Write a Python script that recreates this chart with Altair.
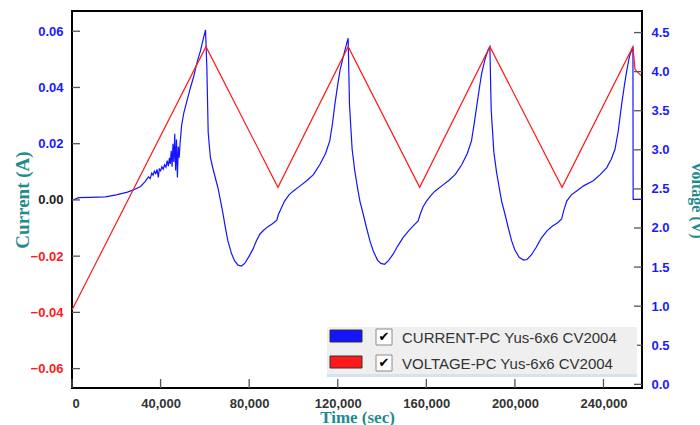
import altair as alt
import pandas as pd

# ---------------- data ----------------
time_ticks = [0, 40000, 80000, 120000, 160000, 200000, 240000]
current_ticks = [-0.06, -0.04, -0.02, 0.0, 0.02, 0.04, 0.06]
voltage_ticks = [0.0, 0.5, 1.0, 1.5, 2.0, 2.5, 3.0, 3.5, 4.0, 4.5]

volt_t = [0, 60500, 93000, 124700, 157000, 188700, 221300, 253300, 254250, 255500, 257000]
volt_v = [0.95, 4.32, 2.52, 4.32, 2.52, 4.32, 2.52, 4.32, 4.03, 3.99, 3.95]

cur_t = [0, 1500, 3000, 8000, 15000, 20000, 25000, 28000, 31000, 33000,
         34500, 35300, 36000, 36600, 37200, 37800, 38400, 39000, 39400, 40000,
         40600, 41200, 41800, 42400, 43000, 43500, 44000, 44400, 44800, 45200,
         45600, 46000, 46400, 46800, 47200, 47600, 48000, 48400, 48800, 49500,
         50500, 52000, 53500, 55000, 56500, 58000, 59200, 60300, 60900, 61500,
         62500, 63700, 65000, 66000, 67000, 68200, 69300, 70400, 72000, 73500,
         75000, 76500, 78000, 80000, 81700, 83300, 84800, 86500, 88500, 90500,
         92500, 93200, 94500, 96000, 98000, 100000, 103000, 106000, 109000, 112000,
         114500, 116400, 117600, 118700, 120000, 121000, 122500, 124000, 124700, 125300,
         126500, 127700, 129000, 130000, 131500, 133000, 134500, 136000, 138000, 139500,
         141200, 143000, 145000, 147000, 149500, 152000, 154000, 156300, 157300, 158500,
         160000, 162000, 164000, 167000, 170000, 173000, 176000, 178500, 180400, 181500,
         182700, 184000, 185000, 186500, 188000, 188700, 189300, 190500, 191700, 193000,
         194000, 195500, 197000, 198500, 200000, 202000, 204000, 205500, 207500, 209500,
         212000, 214500, 217000, 219500, 221100, 222000, 223400, 225500, 227900, 231000,
         235400, 238500, 241500, 243500, 245200, 246700, 248200, 249500, 250500, 251700,
         253300, 253400, 257400]
cur_i = [0.0, 0.0003, 0.0008, 0.0009, 0.0011, 0.0018, 0.0028, 0.0036, 0.0048, 0.0065,
         0.0082, 0.0076, 0.0095, 0.0088, 0.0102, 0.0094, 0.0108, 0.0080, 0.0110, 0.0104,
         0.0118, 0.0109, 0.0125, 0.0116, 0.0140, 0.0120, 0.0150, 0.0128, 0.0175, 0.0118,
         0.0200, 0.0135, 0.0235, 0.0105, 0.0215, 0.0080, 0.0190, 0.0150, 0.0200, 0.0265,
         0.0310, 0.0355, 0.0400, 0.0440, 0.0490, 0.0530, 0.0570, 0.0605, 0.0470, 0.0240,
         0.0150, 0.0110, 0.0070, 0.0040, 0.0000, -0.0050, -0.0100, -0.0146, -0.0190, -0.0218,
         -0.0232, -0.0235, -0.0226, -0.0200, -0.0175, -0.0145, -0.0122, -0.0108, -0.0095, -0.0085,
         -0.0072, -0.0052, -0.0030, -0.0004, 0.0018, 0.0032, 0.0050, 0.0068, 0.0090, 0.0127,
         0.0165, 0.0210, 0.0270, 0.0340, 0.0410, 0.0460, 0.0510, 0.0555, 0.0575, 0.0340,
         0.0180, 0.0103, 0.0040, -0.0004, -0.0050, -0.0099, -0.0145, -0.0181, -0.0215, -0.0226,
         -0.0229, -0.0215, -0.0193, -0.0165, -0.0134, -0.0110, -0.0093, -0.0075, -0.0050, -0.0025,
         -0.0005, 0.0015, 0.0032, 0.0050, 0.0068, 0.0090, 0.0125, 0.0165, 0.0210, 0.0265,
         0.0330, 0.0400, 0.0450, 0.0500, 0.0535, 0.0545, 0.0320, 0.0170, 0.0100, 0.0040,
         -0.0004, -0.0050, -0.0099, -0.0145, -0.0178, -0.0205, -0.0214, -0.0212, -0.0195, -0.0170,
         -0.0135, -0.0110, -0.0093, -0.0080, -0.0068, -0.0040, -0.0004, 0.0018, 0.0032, 0.0050,
         0.0068, 0.0090, 0.0115, 0.0145, 0.0180, 0.0246, 0.0340, 0.0410, 0.0459, 0.0510,
         0.0545, 0.0002, 0.0002]

legend_labels = ["CURRENT-PC Yus-6x6 CV2004", "VOLTAGE-PC Yus-6x6 CV2004"]

# ---------------- styling ----------------
BLUE = "#1414ff"
RED = "#ff1a1a"
TEAL = "#1f8c8c"
W, H = 570, 377
X_DOMAIN = [0, 257400]
I_DOMAIN = [-0.0669, 0.0672]
V_DOMAIN = [-0.047, 4.776]

xscale = alt.Scale(domain=X_DOMAIN, nice=False, zero=False)
iscale = alt.Scale(domain=I_DOMAIN, nice=False, zero=False)
vscale = alt.Scale(domain=V_DOMAIN, nice=False, zero=False)

cur_df = pd.DataFrame({"t": cur_t, "i": cur_i, "order": list(range(len(cur_t)))})
volt_df = pd.DataFrame({"t": volt_t, "v": volt_v, "order": list(range(len(volt_t)))})

x_axis = alt.Axis(values=time_ticks, format=",.0f", title="Time (sec)", grid=False,
                  domain=False, ticks=False, tickSize=0, labelPadding=9,
                  labelFont="Liberation Sans", labelFontWeight="bold", labelFontSize=13,
                  labelColor="#333333", titleFont="Liberation Serif", titleFontWeight="bold",
                  titleFontSize=17, titleColor=TEAL, titleBaseline="alphabetic",
                  titleY=34, titleX=W / 2, titleAlign="center")

current_line = alt.Chart(cur_df).mark_line(color=BLUE, strokeWidth=1.2).encode(
    x=alt.X("t:Q", scale=xscale, axis=x_axis),
    y=alt.Y("i:Q", scale=iscale, axis=alt.Axis(
        orient="left", values=current_ticks, format=".2f", title="Current (A)", grid=False,
        domain=False, ticks=False, tickSize=0, labelPadding=9,
        labelFont="Liberation Sans", labelFontWeight="bold", labelFontSize=13,
        labelColor=alt.ExprRef("datum.value > 0.0001 ? '#1a1aff' : (datum.value < -0.0001 ? '#ff1a1a' : '#222222')"),
        titleFont="Liberation Serif", titleFontWeight="bold", titleFontSize=19,
        titleColor=TEAL, titleAngle=-90, titleBaseline="alphabetic", titleAlign="center",
        titleX=-44, titleY=H / 2)),
    order="order:Q",
)

voltage_line = alt.Chart(volt_df).mark_line(color=RED, strokeWidth=1.2).encode(
    x=alt.X("t:Q", scale=xscale),
    y=alt.Y("v:Q", scale=vscale, axis=alt.Axis(
        orient="right", values=voltage_ticks, format=".1f", title="Voltage (V)", grid=False,
        domain=False, ticks=False, tickSize=0, labelPadding=9,
        labelFont="Liberation Sans", labelFontWeight="bold", labelFontSize=13,
        labelColor="#1a1aff",
        titleFont="Liberation Serif", titleFontWeight="bold", titleFontSize=16,
        titleColor=TEAL, titleAngle=90, titleBaseline="alphabetic", titleAlign="center",
        titleX=49, titleY=H / 2)),
    order="order:Q",
)

TICK_COLOR = "#555555"
xticks = alt.Chart(pd.DataFrame({"t": time_ticks})).mark_rule(color=TICK_COLOR, strokeWidth=1.3).encode(
    x=alt.X("t:Q", scale=xscale), y=alt.value(H), y2=alt.value(H - 9))
lticks = alt.Chart(pd.DataFrame({"i": current_ticks})).mark_rule(color=TICK_COLOR, strokeWidth=1.3).encode(
    y=alt.Y("i:Q", scale=iscale, axis=None), x=alt.value(0), x2=alt.value(8))
rticks = alt.Chart(pd.DataFrame({"v": voltage_ticks})).mark_rule(color=TICK_COLOR, strokeWidth=1.3).encode(
    y=alt.Y("v:Q", scale=vscale, axis=None), x=alt.value(W - 8), x2=alt.value(W))

# ---------------- legend (drawn in the plot's pixel frame) ----------------
one = pd.DataFrame({"k": [0]})
legend_layers = [
    alt.Chart(one).mark_rect(color="#efefef").encode(
        x=alt.value(255), x2=alt.value(565), y=alt.value(316), y2=alt.value(366)),
    alt.Chart(one).mark_rect(color="#d5e3f1").encode(
        x=alt.value(255), x2=alt.value(565), y=alt.value(363), y2=alt.value(366)),
]
for k, (lab, col) in enumerate(zip(legend_labels, [BLUE, RED])):
    dy = 26 * k
    legend_layers += [
        alt.Chart(one).mark_rect(color=col, stroke="#333333", strokeWidth=1).encode(
            x=alt.value(258), x2=alt.value(290), y=alt.value(319 + dy), y2=alt.value(331 + dy)),
        alt.Chart(one).mark_rect(color="white", stroke="#8a8a8a", strokeWidth=1).encode(
            x=alt.value(304), x2=alt.value(320), y=alt.value(318 + dy), y2=alt.value(334 + dy)),
        alt.Chart(one).mark_text(text="✔", font="DejaVu Sans", fontSize=13, color="black",
                                 align="center", baseline="middle").encode(
            x=alt.value(312), y=alt.value(326 + dy)),
        alt.Chart(pd.DataFrame({"label": [lab]})).mark_text(
            font="Liberation Sans", fontSize=15, color="#333333", align="left",
            baseline="alphabetic").encode(
            x=alt.value(330), y=alt.value(332 + dy), text="label:N"),
    ]

chart = alt.layer(
    current_line, voltage_line, xticks, lticks, rticks, *legend_layers
).resolve_scale(y="independent").properties(
    width=W, height=H,
    padding={"left": 72, "top": 11, "right": 700 - 72 - W, "bottom": 425 - 11 - H},
    autosize=alt.AutoSizeParams(type="none"),
    background="white",
).configure_view(stroke="black", strokeWidth=2)

chart.save("out.html", embed_options={"renderer": "svg", "actions": False})
